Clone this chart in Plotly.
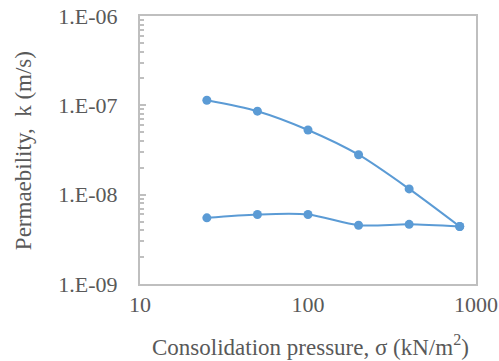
import plotly.graph_objects as go

pressure = [25, 50, 100, 200, 400, 800]
k_upper = [1.14e-7, 8.6e-8, 5.3e-8, 2.8e-8, 1.16e-8, 4.4e-9]
k_lower = [5.5e-9, 6.0e-9, 6.0e-9, 4.55e-9, 4.65e-9, 4.4e-9]

y_tickvals = [1e-9, 1e-8, 1e-7, 1e-6]
y_ticktext = ["1.E-09", "1.E-08", "1.E-07", "1.E-06"]
x_tickvals = [10, 100, 1000]
x_ticktext = ["10", "100", "1000"]

color = "#5B9BD5"
fig = go.Figure()
for ys in (k_upper, k_lower):
    fig.add_trace(go.Scatter(
        x=pressure, y=ys, mode="lines+markers",
        line=dict(color=color, width=2, shape="spline", smoothing=0.8),
        marker=dict(color=color, size=9),
        showlegend=False,
    ))

minor_vals = [m * 10 ** e for e in (-9, -8, -7) for m in range(2, 10)]

font = dict(family="Liberation Serif", color="#595959")
fig.update_layout(
    width=499, height=361,
    margin=dict(l=140, r=23, t=16, b=77),
    paper_bgcolor="white", plot_bgcolor="white",
    font=dict(family="Liberation Serif", size=22, color="#595959"),
    xaxis=dict(
        type="log", range=[1, 3], tickvals=x_tickvals, ticktext=x_ticktext,
        showgrid=False, zeroline=False, showline=True, mirror=True,
        linecolor="#BFBFBF", linewidth=2, ticks="", automargin=False,
        tickfont=dict(size=22, **font),
        ticklabeloverflow="allow",
    ),
    yaxis=dict(
        type="log", range=[-9, -6], tickvals=y_tickvals, ticktext=y_ticktext,
        showgrid=False, zeroline=False, showline=True, mirror=True,
        linecolor="#BFBFBF", linewidth=2, ticks="inside", ticklen=6,
        tickcolor="#BFBFBF", tickwidth=1.5, automargin=False,
        minor=dict(tickvals=minor_vals, ticks="inside", ticklen=4,
                   tickcolor="#BFBFBF", tickwidth=1.5, showgrid=False),
        tickfont=dict(size=22, **font), ticklabelstandoff=16,
        ticklabeloverflow="allow",
    ),
    annotations=[
        dict(text="Consolidation pressure, σ (kN/m<sup>2</sup>)", xref="paper", yref="paper",
             x=0.506, y=-0.231, xanchor="center", yanchor="middle", showarrow=False,
             font=dict(size=23, **font)),
        dict(text="Permaebility,\u00a0\u00a0k (m/s)", xref="paper", yref="paper",
             x=-0.348, y=0.496, xanchor="center", yanchor="middle", showarrow=False,
             textangle=-90, font=dict(size=23, **font)),
    ],
)
fig.write_html("out.html", config={"displayModeBar": False},
               post_script="document.body.style.margin='0';")
